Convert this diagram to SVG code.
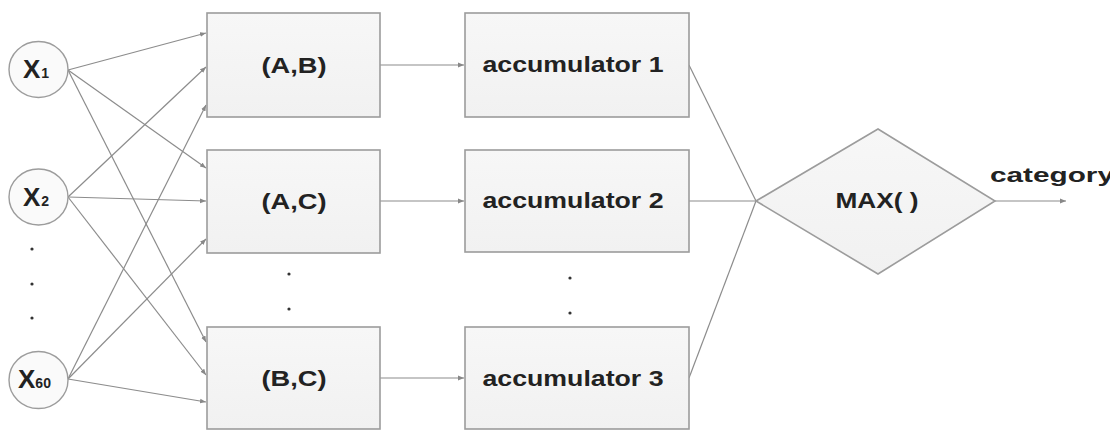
<svg xmlns="http://www.w3.org/2000/svg" width="1110" height="431" viewBox="0 0 1110 431">
  <defs>
    <linearGradient id="boxFill" x1="0" y1="0" x2="0" y2="1">
      <stop offset="0" stop-color="#f7f7f7"/>
      <stop offset="1" stop-color="#f1f1f1"/>
    </linearGradient>
    <marker id="arrow" viewBox="0 0 10 10" refX="10" refY="5" markerWidth="6" markerHeight="6" markerUnits="userSpaceOnUse" orient="auto">
      <path d="M0,1 L10,5 L0,9 z" fill="#888"/>
    </marker>
    <style>
      .node { fill: url(#boxFill); stroke: #9c9c9c; stroke-width: 1.6; }
      .circ { fill: #fafafa; stroke: #9c9c9c; stroke-width: 1.4; }
      .lbl { font-family: "Liberation Sans", Arial, sans-serif; font-weight: bold; fill: #222; }
      .box-lbl { font-size: 22px; text-anchor: middle; }
      .edge { fill: none; stroke: #8c8c8c; stroke-width: 1.2; }
      .dot { fill: #333; }
    </style>
  </defs>

  <rect width="1110" height="431" fill="#ffffff"/>

  <!-- connectors -->
  <g id="connectors">
    <!-- inputs to pair classifiers -->
    <line class="edge" x1="68" y1="70" x2="206" y2="33" marker-end="url(#arrow)"/>
    <line class="edge" x1="68" y1="70" x2="206" y2="168" marker-end="url(#arrow)"/>
    <line class="edge" x1="68" y1="70" x2="206" y2="342" marker-end="url(#arrow)"/>
    <line class="edge" x1="68" y1="197" x2="206" y2="67" marker-end="url(#arrow)"/>
    <line class="edge" x1="68" y1="197" x2="206" y2="201" marker-end="url(#arrow)"/>
    <line class="edge" x1="68" y1="197" x2="206" y2="375" marker-end="url(#arrow)"/>
    <line class="edge" x1="68" y1="379" x2="206" y2="105" marker-end="url(#arrow)"/>
    <line class="edge" x1="68" y1="379" x2="206" y2="239" marker-end="url(#arrow)"/>
    <line class="edge" x1="68" y1="379" x2="206" y2="402" marker-end="url(#arrow)"/>
    <!-- classifiers to accumulators -->
    <line class="edge" x1="380" y1="65" x2="464" y2="65" marker-end="url(#arrow)"/>
    <line class="edge" x1="380" y1="201" x2="464" y2="201" marker-end="url(#arrow)"/>
    <line class="edge" x1="380" y1="378" x2="464" y2="378" marker-end="url(#arrow)"/>
    <!-- accumulators to MAX -->
    <line class="edge" x1="689" y1="65" x2="756" y2="201"/>
    <line class="edge" x1="689" y1="201" x2="756" y2="201"/>
    <line class="edge" x1="689" y1="378" x2="756" y2="201"/>
    <!-- output -->
    <line class="edge" x1="995" y1="201" x2="1066" y2="201" marker-end="url(#arrow)"/>
  </g>

  <!-- input nodes -->
  <g id="x1">
    <ellipse class="circ" cx="38.5" cy="69.5" rx="29.5" ry="28"/>
    <text class="lbl" x="23" y="78" font-size="26">X<tspan font-size="14" dx="1">1</tspan></text>
  </g>
  <g id="x2">
    <ellipse class="circ" cx="38.5" cy="197" rx="29.5" ry="28"/>
    <text class="lbl" x="23" y="206" font-size="26">X<tspan font-size="14" dx="1">2</tspan></text>
  </g>
  <g id="x-dots">
    <circle class="dot" cx="32" cy="249" r="1.6"/>
    <circle class="dot" cx="32" cy="284" r="1.6"/>
    <circle class="dot" cx="32" cy="318" r="1.6"/>
  </g>
  <g id="x60">
    <ellipse class="circ" cx="38.5" cy="380" rx="29.5" ry="28.5"/>
    <text class="lbl" x="18" y="388" font-size="26">X<tspan font-size="14" dx="0">60</tspan></text>
  </g>

  <!-- pair classifiers -->
  <g id="pair-ab">
    <rect class="node" x="207" y="13" width="173" height="104"/>
    <text class="lbl box-lbl" x="294" y="73" textLength="65" lengthAdjust="spacingAndGlyphs">(A,B)</text>
  </g>
  <g id="pair-ac">
    <rect class="node" x="207" y="150" width="173" height="103"/>
    <text class="lbl box-lbl" x="294" y="209" textLength="65" lengthAdjust="spacingAndGlyphs">(A,C)</text>
  </g>
  <g id="pair-dots">
    <circle class="dot" cx="289" cy="274" r="1.6"/>
    <circle class="dot" cx="289" cy="309" r="1.6"/>
  </g>
  <g id="pair-bc">
    <rect class="node" x="207" y="327" width="173" height="102"/>
    <text class="lbl box-lbl" x="294" y="386" textLength="65" lengthAdjust="spacingAndGlyphs">(B,C)</text>
  </g>

  <!-- accumulators -->
  <g id="acc1">
    <rect class="node" x="465" y="13" width="224" height="104"/>
    <text class="lbl box-lbl" x="573" y="72" textLength="181" lengthAdjust="spacingAndGlyphs">accumulator 1</text>
  </g>
  <g id="acc2">
    <rect class="node" x="465" y="150" width="224" height="102"/>
    <text class="lbl box-lbl" x="573" y="208" textLength="181" lengthAdjust="spacingAndGlyphs">accumulator 2</text>
  </g>
  <g id="acc-dots">
    <circle class="dot" cx="570" cy="278" r="1.6"/>
    <circle class="dot" cx="570" cy="313" r="1.6"/>
  </g>
  <g id="acc3">
    <rect class="node" x="465" y="327" width="224" height="102"/>
    <text class="lbl box-lbl" x="573" y="386" textLength="181" lengthAdjust="spacingAndGlyphs">accumulator 3</text>
  </g>

  <!-- decision -->
  <g id="max">
    <polygon class="node" points="756,201 878,129 995,201 878,274"/>
    <text class="lbl box-lbl" x="877" y="208" textLength="83" lengthAdjust="spacingAndGlyphs">MAX( )</text>
  </g>

  <g id="output-label">
    <text class="lbl" x="990" y="182" font-size="21" textLength="124" lengthAdjust="spacingAndGlyphs">category</text>
  </g>
</svg>
